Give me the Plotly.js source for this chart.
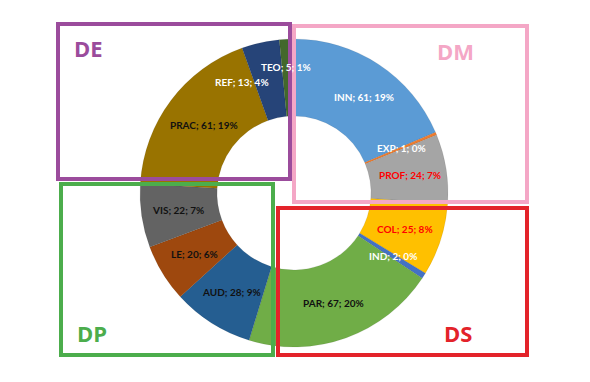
<!DOCTYPE html>
<html>
<head>
<meta charset="utf-8">
<script src="https://cdn.plot.ly/plotly-3.0.1.min.js"></script>
<style>html,body{margin:0;padding:0;background:#fff;}#chart{width:590px;height:382px;}</style>
</head>
<body>
<div id="chart"></div>
<script>
// ---- data ----
const categories = ['INN','EXP','PROF','COL','IND','PAR','AUD','LE','VIS','PRAC','REF','TEO'];
const counts     = [61, 1, 24, 25, 2, 67, 28, 20, 22, 61, 13, 5];
const shares     = ['19%','0%','7%','8%','0%','20%','9%','6%','7%','19%','4%','1%'];
const sliceColors = ['#5b9bd5','#ed7d31','#a5a5a5','#ffc000','#4472c4','#70ad47','#255e91','#9e480e','#636363','#997300','#264478','#43682b'];
const labelColors = ['#ffffff','#ffffff','#ff0000','#ff0000','#ffffff','#111111','#111111','#111111','#111111','#111111','#ffffff','#ffffff'];
const groupNames  = ['DE','DM','DP','DS'];
const groupColors = ['#9b4c9c','#f4a7c6','#4cad4c','#e3232a'];

// ---- geometry (pixels) ----
const W = 590, H = 382;
const cx = 294, cy = 193, R = 154, HOLE = 0.5;
const domX = [(cx - R) / W, (cx + R) / W];
const domY = [(H - cy - R) / H, (H - cy + R) / H];
// label nudges [dx, dy] in px (to keep crowded labels apart, as in the reference)
const nudges = [[6,2],[0,0],[0,0],[0,0],[0,0],[0,0],[0,0],[0,0],[0,0],[4,2],[-27,3],[-2,-9]];

const total = counts.reduce((a, b) => a + b, 0);
const rl = R * 0.76;
const annotations = [];
let cum = 0;
counts.forEach((v, i) => {
  const mid = (cum + v / 2) / total * 2 * Math.PI;
  cum += v;
  const px = cx + rl * Math.sin(mid);
  const py = cy - rl * Math.cos(mid);
  annotations.push({
    x: px / W, y: (H - py) / H, xref: 'paper', yref: 'paper',
    xshift: nudges[i][0], yshift: -nudges[i][1],
    text: '<b>' + categories[i] + '; ' + v + '; ' + shares[i] + '</b>',
    showarrow: false, xanchor: 'center', yanchor: 'middle',
    font: {family: 'Lato, "Open Sans", sans-serif', size: 10, color: labelColors[i]}
  });
});

// group boxes [x0, y0, x1, y1] in pixels (top-left origin) and their label spots
const boxes = [[58, 24, 290, 179], [294, 26, 527, 202], [61, 184, 273, 355], [278, 208, 527, 355]];
const labelSpots = [[88, 48], [455, 51], [92, 333], [458, 333]];
const shapes = boxes.map((b, i) => ({
  type: 'rect', xref: 'paper', yref: 'paper', layer: 'above',
  x0: b[0] / W, x1: b[2] / W, y0: (H - b[3]) / H, y1: (H - b[1]) / H,
  line: {color: groupColors[i], width: 4}, fillcolor: 'rgba(0,0,0,0)'
}));
groupNames.forEach((g, i) => {
  annotations.push({
    x: labelSpots[i][0] / W, y: (H - labelSpots[i][1]) / H, xref: 'paper', yref: 'paper',
    text: '<b>' + g + '</b>', showarrow: false, xanchor: 'center', yanchor: 'middle',
    font: {family: '"Open Sans", sans-serif', size: 22, color: groupColors[i]}
  });
});

const trace = {
  type: 'pie', labels: categories, values: counts, hole: HOLE,
  sort: false, direction: 'clockwise', rotation: 0,
  textinfo: 'none', hoverinfo: 'label+value+percent',
  marker: {colors: sliceColors, line: {color: 'rgba(0,0,0,0.12)', width: 0.6}},
  domain: {x: domX, y: domY}, showlegend: false
};

Plotly.newPlot('chart', [trace], {
  width: W, height: H, margin: {l: 0, r: 0, t: 0, b: 0},
  paper_bgcolor: '#ffffff', showlegend: false,
  shapes: shapes, annotations: annotations
}, {displayModeBar: false, staticPlot: true});
</script>
</body>
</html>
